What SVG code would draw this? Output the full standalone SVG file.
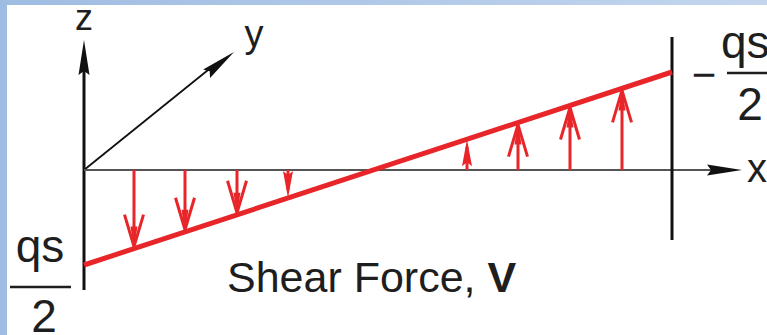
<svg xmlns="http://www.w3.org/2000/svg" width="767" height="335" viewBox="0 0 767 335">
<style>
  .lbl { font-family: "Liberation Sans", Arial, sans-serif; fill: #1e1e1e; }
  .ax { stroke: #111; fill: none; }
  .rd { stroke: #e8262a; fill: none; stroke-width: 3; }
</style>
<defs>
  <linearGradient id="bg" x1="0" y1="0" x2="1" y2="0">
    <stop offset="0" stop-color="#9fbce2"/>
    <stop offset="1" stop-color="#c3d6ee"/>
  </linearGradient>
  <g id="rh">
    <path d="M-34,-9.5 L-2,0 L-34,9.5" fill="none" stroke="#e8262a" stroke-width="3" stroke-linejoin="round"/>
    <path d="M0,0 L-22,-3.5 L-22,3.5Z" fill="#e8262a"/>
  </g>
  <path id="rhs" d="M0,0 L-27,-5 L-23,0 L-27,5Z" fill="#e8262a"/>
  <path id="bh" d="M0,0 L-35,-5.5 L-31,0 L-35,5.5Z" fill="#111"/>
</defs>

<rect x="0" y="0" width="767" height="335" fill="url(#bg)"/>
<rect x="7" y="5" width="760" height="330" fill="#ffffff"/>

<g id="axes">
  <line class="ax" x1="84" y1="290" x2="84" y2="62" stroke-width="3"/>
  <use href="#bh" transform="translate(84,40) rotate(-90)"/>
  <line class="ax" x1="84" y1="170" x2="213" y2="66" stroke-width="1.8"/>
  <use href="#bh" transform="translate(234,52) rotate(-38.5)"/>
  <line x1="84" y1="170" x2="715" y2="170" stroke="#555" stroke-width="2"/>
  <use href="#bh" transform="translate(742,170)"/>
  <line class="ax" x1="672" y1="37" x2="672" y2="240" stroke-width="3"/>
</g>

<g id="shear-line">
  <line x1="84" y1="265" x2="672" y2="72" stroke="#e8262a" stroke-width="5"/>
</g>

<g id="arrows">
  <line class="rd" x1="134" y1="170" x2="134" y2="240"/>
  <use href="#rh" transform="translate(134,248.6) rotate(90)"/>
  <line class="rd" x1="185" y1="170" x2="185" y2="224"/>
  <use href="#rh" transform="translate(185,231.8) rotate(90)"/>
  <line class="rd" x1="237" y1="170" x2="237" y2="207"/>
  <use href="#rh" transform="translate(237,214.8) rotate(90)"/>
  <line class="rd" x1="288" y1="170" x2="288" y2="190"/>
  <use href="#rhs" transform="translate(288,198) rotate(90)"/>

  <line class="rd" x1="467" y1="170" x2="467" y2="147"/>
  <use href="#rhs" transform="translate(467,139.3) rotate(-90)"/>
  <line class="rd" x1="518" y1="170" x2="518" y2="130"/>
  <use href="#rh" transform="translate(518,122.6) rotate(-90)"/>
  <line class="rd" x1="570" y1="170" x2="570" y2="113"/>
  <use href="#rh" transform="translate(570,105.5) rotate(-90)"/>
  <line class="rd" x1="622" y1="170" x2="622" y2="96"/>
  <use href="#rh" transform="translate(622,88.4) rotate(-90)"/>
</g>

<g id="labels">
  <text class="lbl" x="84" y="30" font-size="36" text-anchor="middle">z</text>
  <text class="lbl" x="254" y="47" font-size="38" text-anchor="middle">y</text>
  <text class="lbl" x="747" y="182" font-size="40">x</text>

  <g id="left-value">
    <text class="lbl" x="40" y="262" font-size="46" text-anchor="middle">qs</text>
    <line x1="10" y1="287" x2="71" y2="287" stroke="#1e1e1e" stroke-width="2.5"/>
    <text class="lbl" x="44" y="332" font-size="46" text-anchor="middle">2</text>
  </g>
  <g id="right-value">
    <text class="lbl" x="704" y="89" font-size="42" text-anchor="middle">−</text>
    <text class="lbl" x="721" y="58" font-size="46">qs</text>
    <line x1="727" y1="73" x2="767" y2="73" stroke="#1e1e1e" stroke-width="2.5"/>
    <text class="lbl" x="750" y="120" font-size="46" text-anchor="middle">2</text>
  </g>

  <text class="lbl" x="227" y="292" font-size="43">Shear Force, <tspan font-weight="bold">V</tspan></text>
</g>
</svg>
